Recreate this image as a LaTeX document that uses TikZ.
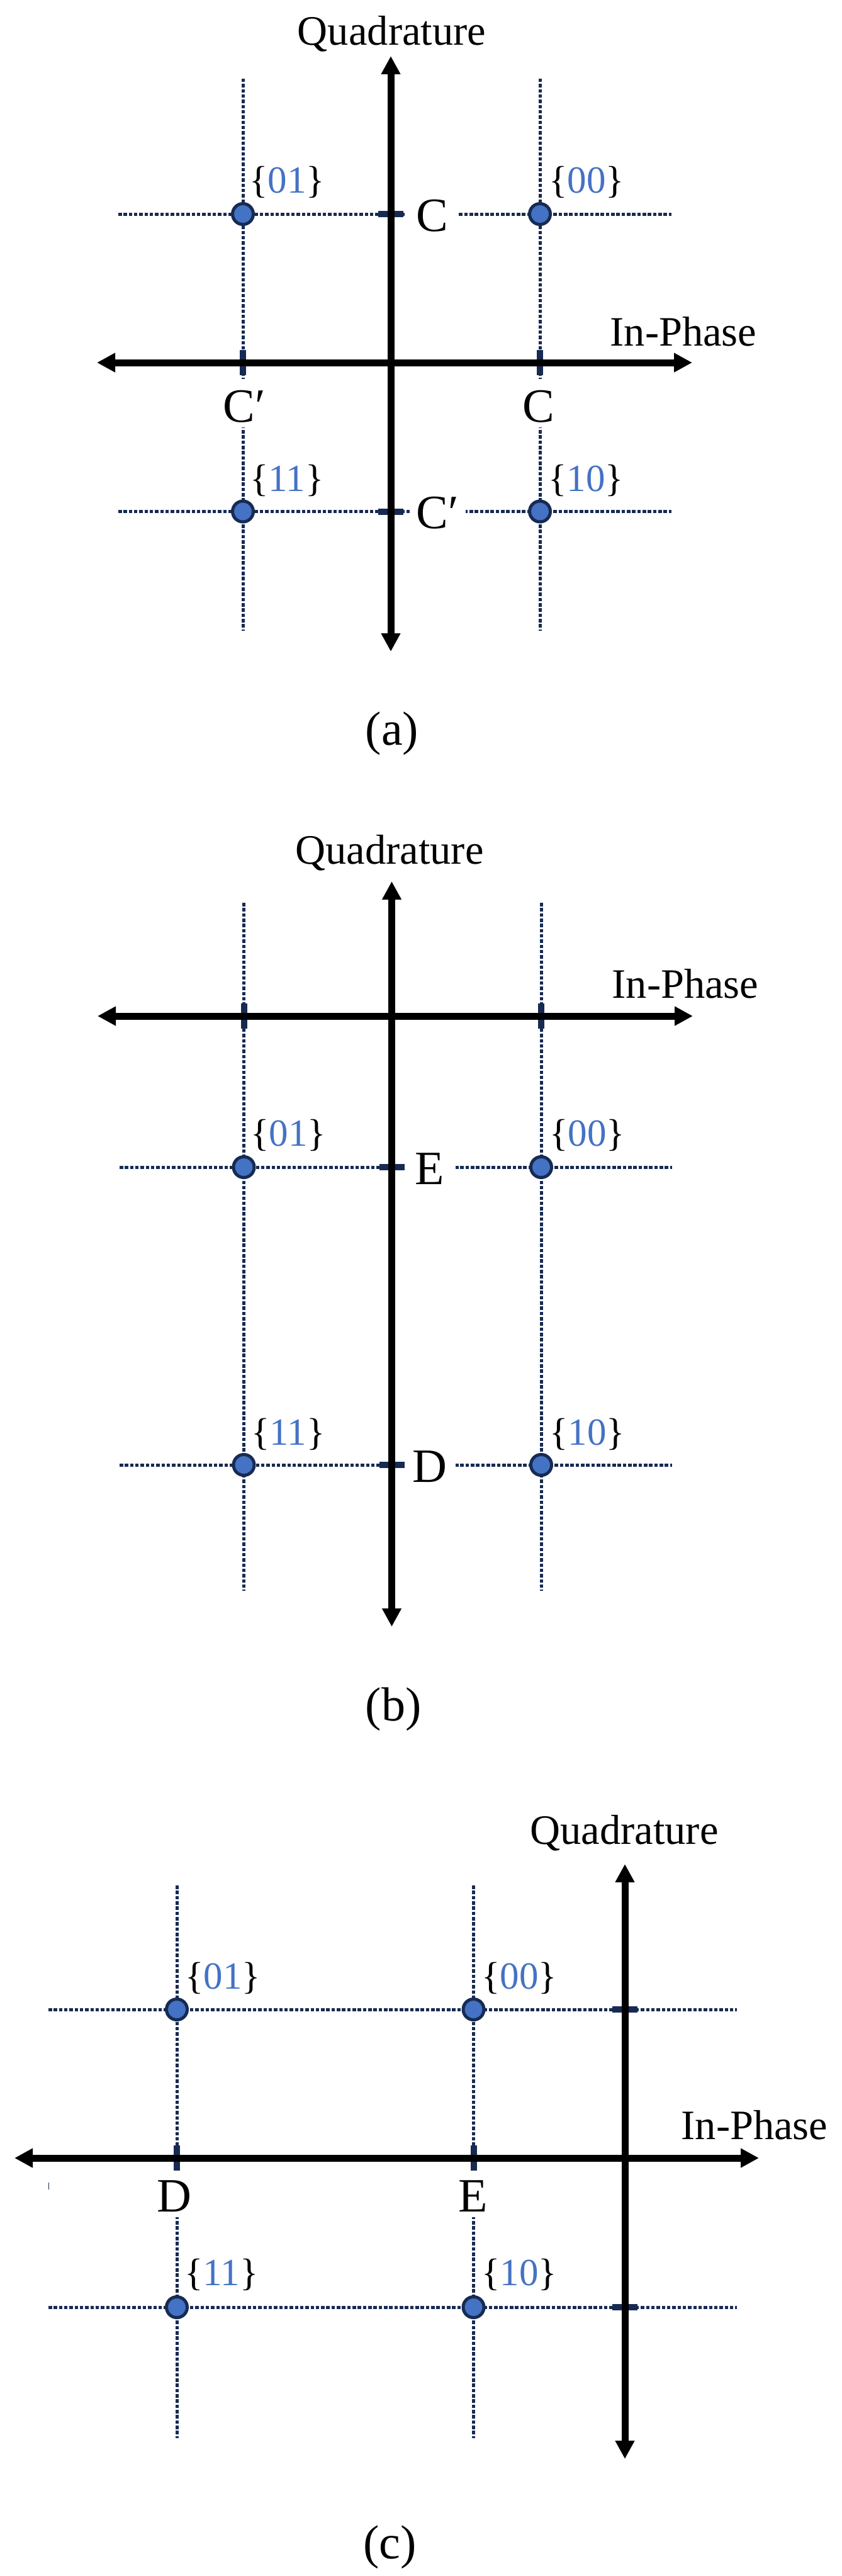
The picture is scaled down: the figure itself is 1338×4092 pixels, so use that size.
\documentclass[tikz,border=0pt]{standalone}
\usepackage{fontspec}
\setmainfont{Liberation Serif}
\usetikzlibrary{arrows.meta}
\definecolor{gridnavy}{HTML}{172B52}
\definecolor{bitblue}{HTML}{4472C4}
\newcommand{\bits}[1]{\{{\color{bitblue}#1}\}}
\begin{document}
\begin{tikzpicture}[
  x=1pt, y=-1pt,
  >={Triangle[length=29pt,width=29pt]},
  axisline/.style={line width=11pt, black},
  gridline/.style={line width=5pt, gridnavy, dash pattern=on 5.5pt off 2.83pt},
  symbol/.style={circle, draw=gridnavy, fill=bitblue, line width=5pt, minimum size=33pt, inner sep=0pt},
  htick/.style={rectangle, fill=gridnavy, minimum width=40pt, minimum height=10pt, inner sep=0pt},
  vtick/.style={rectangle, fill=gridnavy, minimum width=10pt, minimum height=40pt, inner sep=0pt},
  axislabel/.style={anchor=base, inner sep=0pt, font=\fontsize{66.5}{70}\selectfont},
  caption/.style={anchor=base, inner sep=0pt, font=\fontsize{76}{80}\selectfont},
  bitlabel/.style={anchor=base, inner sep=0pt, font=\fontsize{61}{65}\selectfont},
  point/.style={anchor=base, fill=white, inner xsep=0pt, inner ysep=5pt, text height=63pt, text depth=4pt, font=\fontsize{76}{80}\selectfont}
]
\useasboundingbox (0,0) rectangle (1338,4092);

% panel a
\coordinate (aLeft) at (154,576); \coordinate (aRight) at (1100,576);
\coordinate (aTop) at (621,89); \coordinate (aBottom) at (621,1035);
\coordinate (aV1s) at (386,125); \coordinate (aV1e) at (386,1002);
\coordinate (aV2s) at (858,125); \coordinate (aV2e) at (858,1002);
\coordinate (aH1s) at (188,340); \coordinate (aH1e) at (1067,340);
\coordinate (aH2s) at (188,812.5); \coordinate (aH2e) at (1067,812.5);
\draw[gridline] (aV1s) -- (aV1e);
\draw[gridline] (aV2s) -- (aV2e);
\draw[gridline] (aH1s) -- (aH1e);
\draw[gridline] (aH2s) -- (aH2e);
\node[point, minimum width=83pt] (aC1) at (686.5,367) {C};
\node[point, minimum width=89pt] (aC2) at (695.5,839) {C′};
\node[point, minimum width=80pt] (aC3) at (388,670) {C′};
\node[point, minimum width=80pt] (aC4) at (856,670) {C};
\node[vtick] (aT1) at (386,576) {};
\node[vtick] (aT2) at (858,576) {};
\node[htick] (aT3) at (621,340) {};
\node[htick] (aT4) at (621,812.5) {};
\draw[<->,axisline] (aLeft) -- (aRight);
\draw[<->,axisline] (aBottom) -- (aTop);
\node[symbol] (a01) at (386,340) {};
\node[symbol] (a00) at (858,340) {};
\node[symbol] (a11) at (386,812.5) {};
\node[symbol] (a10) at (858,812.5) {};
\node[bitlabel] (a01b) at (456,306) {\bits{01}};
\node[bitlabel] (a00b) at (932,306) {\bits{00}};
\node[bitlabel] (a11b) at (456,780) {\bits{11}};
\node[bitlabel] (a10b) at (931,780) {\bits{10}};
\node[axislabel] (aQ) at (622.5,72) {Quadrature};
\node[axislabel] (aI) at (1086,549) {In-Phase};
\node[caption] (aCap) at (623,1183) {(a)};

% panel b
\coordinate (bLeft) at (155,1614); \coordinate (bRight) at (1101,1614);
\coordinate (bTop) at (622.5,1400); \coordinate (bBottom) at (622.5,2584);
\coordinate (bV1s) at (387.5,1434); \coordinate (bV1e) at (387.5,2527);
\coordinate (bV2s) at (860,1434); \coordinate (bV2e) at (860,2527);
\coordinate (bH1s) at (190,1854); \coordinate (bH1e) at (1068,1854);
\coordinate (bH2s) at (190,2327); \coordinate (bH2e) at (1068,2327);
\draw[gridline] (bV1s) -- (bV1e);
\draw[gridline] (bV2s) -- (bV2e);
\draw[gridline] (bH1s) -- (bH1e);
\draw[gridline] (bH2s) -- (bH2e);
\node[point, minimum width=82pt] (bE) at (683,1881) {E};
\node[point, minimum width=82pt] (bD) at (683,2354) {D};
\node[vtick] (bT1) at (387.5,1614) {};
\node[vtick] (bT2) at (860,1614) {};
\node[htick] (bT3) at (622.5,1854) {};
\node[htick] (bT4) at (622.5,2327) {};
\draw[<->,axisline] (bLeft) -- (bRight);
\draw[<->,axisline] (bBottom) -- (bTop);
\node[symbol] (b01) at (387.5,1854) {};
\node[symbol] (b00) at (860,1854) {};
\node[symbol] (b11) at (387.5,2327) {};
\node[symbol] (b10) at (860,2327) {};
\node[bitlabel] (b01b) at (458,1820) {\bits{01}};
\node[bitlabel] (b00b) at (933,1820) {\bits{00}};
\node[bitlabel] (b11b) at (458,2295) {\bits{11}};
\node[bitlabel] (b10b) at (933,2295) {\bits{10}};
\node[axislabel] (bQ) at (619,1372) {Quadrature};
\node[axislabel] (bI) at (1089,1585) {In-Phase};
\node[caption] (bCap) at (625,2733) {(b)};

% panel c
\coordinate (cLeft) at (23,3428); \coordinate (cRight) at (1206,3428);
\coordinate (cTop) at (993,2961); \coordinate (cBottom) at (993,3906);
\coordinate (cV1s) at (281,2995); \coordinate (cV1e) at (281,3873);
\coordinate (cV2s) at (752.5,2995); \coordinate (cV2e) at (752.5,3873);
\coordinate (cH1s) at (77,3192); \coordinate (cH1e) at (1171,3192);
\coordinate (cH2s) at (77,3665); \coordinate (cH2e) at (1171,3665);
\coordinate (cMarkS) at (77.5,3467); \coordinate (cMarkE) at (77.5,3478);
\draw[gridline] (cV1s) -- (cV1e);
\draw[gridline] (cV2s) -- (cV2e);
\draw[gridline] (cH1s) -- (cH1e);
\draw[gridline] (cH2s) -- (cH2e);
\draw[gridnavy, line width=1pt] (cMarkS) -- (cMarkE);
\node[point, minimum width=80pt] (cD) at (277,3513) {D};
\node[point, minimum width=80pt] (cE) at (752,3513) {E};
\node[vtick] (cT1) at (281,3428) {};
\node[vtick] (cT2) at (752.5,3428) {};
\node[htick] (cT3) at (993,3192) {};
\node[htick] (cT4) at (993,3665) {};
\draw[<->,axisline] (cLeft) -- (cRight);
\draw[<->,axisline] (cBottom) -- (cTop);
\node[symbol] (c01) at (281,3192) {};
\node[symbol] (c00) at (752.5,3192) {};
\node[symbol] (c11) at (281,3665) {};
\node[symbol] (c10) at (752.5,3665) {};
\node[bitlabel] (c01b) at (354,3159) {\bits{01}};
\node[bitlabel] (c00b) at (825,3159) {\bits{00}};
\node[bitlabel] (c11b) at (352,3630) {\bits{11}};
\node[bitlabel] (c10b) at (825,3630) {\bits{10}};
\node[axislabel] (cQ) at (992,2929) {Quadrature};
\node[axislabel] (cI) at (1199,3398) {In-Phase};
\node[caption] (cCap) at (619.5,4064) {(c)};
\end{tikzpicture}
\end{document}
